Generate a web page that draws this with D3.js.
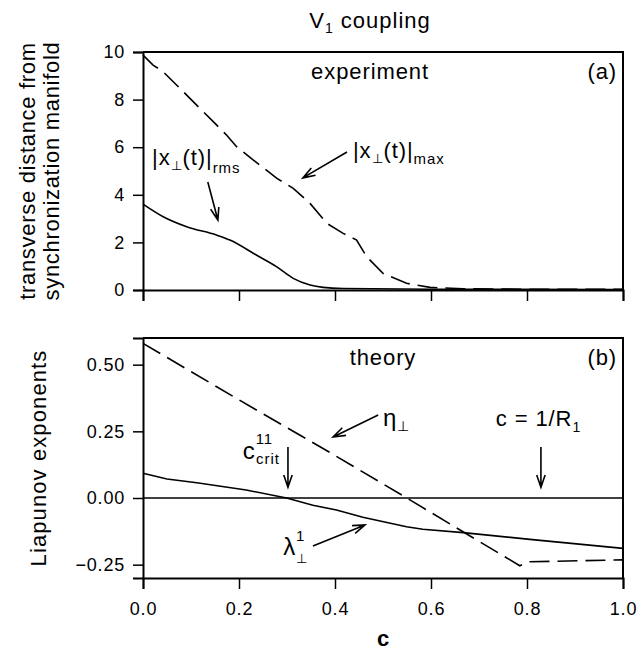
<!DOCTYPE html>
<html>
<head>
<meta charset="utf-8">
<script src="https://cdn.jsdelivr.net/npm/d3@7"></script>
<style>
  body { margin: 0; background: #fff; }
  svg text { font-family: "Liberation Sans", Arial, Helvetica, sans-serif; fill: #000; }
</style>
</head>
<body>
<div class="chart"></div>
<script>
// values
const c_max = [0, 0.021, 0.042, 0.091, 0.15, 0.174, 0.195, 0.23, 0.279, 0.313, 0.348, 0.383, 0.417, 0.445, 0.466, 0.5, 0.549, 0.598, 0.667, 0.8, 1.0];
const x_max = [9.87, 9.45, 9.17, 8.19, 7.0, 6.51, 6.02, 5.46, 4.69, 4.27, 3.64, 2.8, 2.38, 2.1, 1.4, 0.7, 0.28, 0.11, 0.05, 0.03, 0.03];

const c_rms = [0, 0.042, 0.091, 0.153, 0.181, 0.236, 0.278, 0.313, 0.348, 0.375, 0.417, 0.6, 1.0];
const x_rms = [3.61, 3.08, 2.66, 2.31, 2.1, 1.47, 0.98, 0.49, 0.21, 0.11, 0.06, 0.03, 0.02];

const c_eta = [0, 0.2, 0.39, 0.542, 0.785, 0.796, 0.806, 1.0];
const eta = [0.58, 0.368, 0.17, 0.008, -0.254, -0.245, -0.239, -0.232];

const c_lam = [0, 0.05, 0.112, 0.215, 0.299, 0.354, 0.403, 0.458, 0.549, 0.583, 0.667, 0.806, 1.0];
const lam = [0.093, 0.071, 0.057, 0.03, 0.0, -0.027, -0.045, -0.072, -0.108, -0.117, -0.13, -0.155, -0.189];

const xTicks = [0, 0.2, 0.4, 0.6, 0.8, 1.0];
const topTicks = [0, 2, 4, 6, 8, 10];
const botTicks = [-0.25, 0, 0.25, 0.5];

const width = 639, height = 653;
const svg = d3.select('.chart').append('svg')
    .attr('width', width).attr('height', height);

const x = d3.scaleLinear().domain([0, 1]).range([143, 623]);
const yA = d3.scaleLinear().domain([0, 10]).range([290, 52]);
const yB = d3.scaleLinear().domain([-0.3, 0.6]).range([578, 338]);

const FS = 18;

function frame(y, ticks, fmt, showX) {
    const g = svg.append('g');
    const ya = g.append('g').attr('transform', 'translate(' + x(0) + ',0)')
        .call(d3.axisLeft(y).tickValues(ticks).tickFormat(fmt).tickSize(10).tickPadding(8));
    const xa = g.append('g').attr('transform', 'translate(0,' + y.range()[0] + ')')
        .call(d3.axisBottom(x).tickValues(xTicks).tickFormat(showX ? d3.format('.1f') : '').tickSize(11).tickPadding(13));
    [ya, xa].forEach(a => {
        a.select('.domain').attr('stroke-width', 2);
        a.selectAll('.tick line').attr('stroke-width', 1.5);
        a.selectAll('text').attr('font-size', FS).attr('letter-spacing', 0.8)
            .style('font-family', '"Liberation Sans", Arial, sans-serif');
    });
    // closing box
    g.append('path')
        .attr('d', 'M' + x(0) + ',' + y.range()[1] + 'H' + x(1) + 'V' + y.range()[0])
        .attr('fill', 'none').attr('stroke', '#000').attr('stroke-width', 2);
}

frame(yA, topTicks, d3.format('d'), false);
frame(yB, botTicks, d3.format('.2f'), true);

// zero line in panel (b)
svg.append('line')
    .attr('x1', x(0)).attr('x2', x(1))
    .attr('y1', yB(0)).attr('y2', yB(0))
    .attr('stroke', '#000').attr('stroke-width', 1.3);

function curve(cs, vs, y, dashed, smooth) {
    const line = d3.line().x(d => x(d[0])).y(d => y(d[1]))
        .curve(smooth ? d3.curveMonotoneX : d3.curveLinear);
    svg.append('path')
        .attr('d', line(cs.map((c, i) => [c, vs[i]])))
        .attr('fill', 'none').attr('stroke', '#000').attr('stroke-width', 1.6)
        .attr('stroke-dasharray', dashed ? '20,8' : null);
}

curve(c_max, x_max, yA, true, false);
curve(c_rms, x_rms, yA, false, true);
curve(c_eta, eta, yB, true, false);
curve(c_lam, lam, yB, false, false);

// open arrow: from (c0,v0) to head at (c1,v1)
function arrow(y, c0, v0, c1, v1) {
    const x0 = x(c0), y0 = y(v0), x1 = x(c1), y1 = y(v1);
    const a = Math.atan2(y1 - y0, x1 - x0);
    const L = 13, w = 0.33;
    const p = 'M' + x0 + ',' + y0 + 'L' + x1 + ',' + y1 +
        'M' + (x1 - L * Math.cos(a - w)) + ',' + (y1 - L * Math.sin(a - w)) + 'L' + x1 + ',' + y1 +
        'L' + (x1 - L * Math.cos(a + w)) + ',' + (y1 - L * Math.sin(a + w));
    svg.append('path').attr('d', p).attr('fill', 'none')
        .attr('stroke', '#000').attr('stroke-width', 1.6);
}

arrow(yA, 0.135, 4.54, 0.156, 2.94);
arrow(yA, 0.425, 5.8, 0.333, 4.71);
arrow(yB, 0.49, 0.311, 0.396, 0.229);
arrow(yB, 0.354, -0.18, 0.4625, -0.101);
arrow(yB, 0.302, 0.191, 0.302, 0.04);
arrow(yB, 0.829, 0.191, 0.829, 0.04);

const LS = 0.9;
function label(px, py, anchor, size) {
    return svg.append('text').attr('x', px).attr('y', py)
        .attr('text-anchor', anchor).attr('font-size', size).attr('letter-spacing', LS);
}
function sub(t, txt, size, dy) {
    t.append('tspan').attr('font-size', size).attr('dy', dy).text(txt);
}

// title
const title = label(370, 28, 'middle', 22).attr('letter-spacing', 1).text('V');
sub(title, '1', 14, 5);
title.append('tspan').attr('dy', -5).text(' coupling');

label(x(0.473), yA(8.87), 'middle', 22).text('experiment');
label(617, yA(8.87), 'end', 22).text('(a)');
label(x(0.5), yB(0.5), 'middle', 22).text('theory');
label(617, yB(0.5), 'end', 22).text('(b)');

// |x(t)|rms
let t = label(x(0.019), yA(5.25), 'start', 22).text('|x');
sub(t, '\u22A5', 13, 5);
t.append('tspan').attr('dy', -5).text('(t)|');
sub(t, 'rms', 15, 8);

// |x(t)|max
t = label(x(0.4375), yA(5.55), 'start', 22).text('|x');
sub(t, '\u22A5', 13, 5);
t.append('tspan').attr('dy', -5).text('(t)|');
sub(t, 'max', 15, 6);

// eta
t = label(x(0.5), yB(0.27), 'start', 24).text('\u03B7');
sub(t, '\u22A5', 14, 5);

// c = 1/R1
t = label(x(0.735), yB(0.27), 'start', 22).text('c = 1/R');
sub(t, '1', 14, 6);

// c_crit^11
t = label(x(0.208), yB(0.145), 'start', 24).text('c');
t.append('tspan').attr('font-size', 15).attr('dy', -15).text('11');
t.append('tspan').attr('font-size', 15).attr('dx', -17).attr('dy', 20).text('crit');

// lambda
t = label(x(0.292), yB(-0.213), 'start', 24).text('\u03BB');
t.append('tspan').attr('font-size', 15).attr('dy', -14).text('1');
t.append('tspan').attr('font-size', 13).attr('dx', -9).attr('dy', 22).text('\u22A5');

// axis titles
const midA = (yA(0) + yA(10)) / 2, midB = (yB(-0.3) + yB(0.6)) / 2;
svg.append('text').attr('transform', 'translate(35,' + midA + ') rotate(-90)')
    .attr('text-anchor', 'middle').attr('font-size', 22).attr('letter-spacing', 0.7)
    .text('transverse distance from');
svg.append('text').attr('transform', 'translate(59,' + midA + ') rotate(-90)')
    .attr('text-anchor', 'middle').attr('font-size', 22).attr('letter-spacing', 0.7)
    .text('synchronization manifold');
svg.append('text').attr('transform', 'translate(46,' + midB + ') rotate(-90)')
    .attr('text-anchor', 'middle').attr('font-size', 22).attr('letter-spacing', 1.1)
    .text('Liapunov exponents');

svg.append('text').attr('x', (x(0) + x(1)) / 2).attr('y', 646)
    .attr('text-anchor', 'middle').attr('font-size', 22).attr('font-weight', 'bold')
    .text('c');
</script>
</body>
</html>
